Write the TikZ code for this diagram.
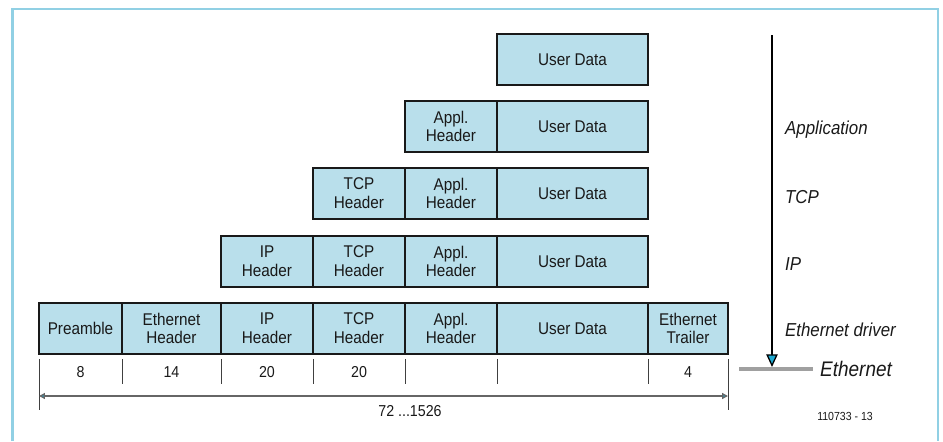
\documentclass[tikz,border=0pt]{standalone}
\usepackage{fontspec}
\setmainfont{Liberation Sans}[FakeStretch=0.9]
\usepackage{xcolor}
\usetikzlibrary{arrows.meta}
\definecolor{pktblue}{RGB}{185,223,235}
\definecolor{framebl}{RGB}{145,208,228}
\definecolor{tipcyan}{RGB}{30,170,210}
\definecolor{bargray}{RGB}{160,160,160}
\newcommand{\boxfont}{\fontsize{14.5}{16}\selectfont}
\newcommand{\numfont}{\fontsize{13.5}{15}\selectfont}
\newcommand{\layerfont}{\fontsize{16}{18}\selectfont}

\begin{document}
\begin{tikzpicture}[x=0.03cm, y=-0.03cm,
  cell/.style={draw=black!90, fill=pktblue, line width=2pt, inner sep=0pt, outer sep=0pt,
    anchor=north west, minimum height=1.53cm, align=center, font=\boxfont, text=black!90},
  tick/.style={draw=black!75, line width=0.8pt},
  num/.style={font=\numfont, text=black!90},
  layer/.style={anchor=west, font=\layerfont\itshape, text=black!90},
  dim/.style={draw=black!60, line width=1.1pt,
    {Triangle[fill=tipcyan,length=5pt,width=5pt]}-{Triangle[fill=tipcyan,length=5pt,width=5pt]}},
  flow/.style={line width=1.1pt, -{Triangle[fill=tipcyan,length=0.38cm,width=0.34cm]}}]
  \useasboundingbox (0,0) rectangle (943,441);
  % frame
  \draw[framebl, line width=2pt] (12.5,441) -- (12.5,9) -- (938,9) -- (938,441);

  % user data, every row
  \foreach \r/\y in {1/34,2/101,3/168,4/236,5/303}
    \node[cell, minimum width=4.53cm] (data\r) at (497,\y) {User Data};
  % application header
  \foreach \r/\y in {2/101,3/168,4/236,5/303}
    \node[cell, minimum width=2.76cm] (appl\r) at (405,\y) {Appl.\\Header};
  % TCP header
  \foreach \r/\y in {3/168,4/236,5/303}
    \node[cell, minimum width=2.76cm] (tcp\r) at (313,\y) {TCP\\Header};
  % IP header
  \foreach \r/\y in {4/236,5/303}
    \node[cell, minimum width=2.76cm] (ip\r) at (221,\y) {IP\\Header};
  % ethernet frame
  \node[cell, minimum width=2.49cm] (pre5) at (39,303) {Preamble};
  \node[cell, minimum width=2.97cm] (eth5) at (122,303) {Ethernet\\Header};
  \node[cell, minimum width=2.40cm] (trl5) at (648,303) {Ethernet\\Trailer};

  % byte counts
  \foreach \x in {122,221,313,405,497,648}
    \draw[tick] (\x,359) -- (\x,384);
  \draw[tick] (39,359) -- (39,410);
  \draw[tick] (728,359) -- (728,410);
  \foreach \x/\n/\t in {80.5/b1/8,171.5/b2/14,267/b3/20,359/b4/20,688/b5/4}
    \node[num] (\n) at (\x,372) {\t};
  \coordinate (dimL) at (39,396);
  \coordinate (dimR) at (728,396);
  \draw[dim] (dimL) -- (dimR);
  \node[num] (total) at (410,411) {72 ...1526};

  % layers
  \coordinate (top) at (772,35);
  \coordinate (hit) at (772,367);
  \coordinate (wireL) at (739,369);
  \coordinate (wireR) at (813,369);
  \draw[bargray, line width=0.12cm] (wireL) -- (wireR);
  \draw[flow] (top) -- (hit);
  \node[layer] (lapp) at (781,130) {Application};
  \node[layer] (ltcp) at (781,197) {TCP};
  \node[layer] (lip) at (781,264) {IP};
  \node[layer] (ldrv) at (781,330) {Ethernet driver};
  \node[anchor=west, font=\fontsize{18}{20}\selectfont\itshape, text=black!90] (wire) at (816,369) {Ethernet};
  \node[font=\fontsize{10}{12}\selectfont, text=black!90] (fig) at (845,416) {110733 - 13};
\end{tikzpicture}
\end{document}
